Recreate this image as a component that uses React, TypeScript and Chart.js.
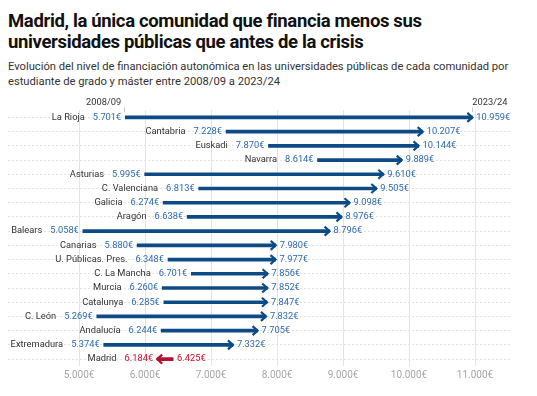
import React, { useEffect, useRef } from "react";
import { Chart, registerables } from "chart.js";

Chart.register(...registerables);

const categories = [
  "La Rioja", "Cantabria", "Euskadi", "Navarra", "Asturias", "C. Valenciana",
  "Galicia", "Aragón", "Balears", "Canarias", "U. Públicas. Pres.", "C. La Mancha",
  "Murcia", "Catalunya", "C. León", "Andalucía", "Extremadura", "Madrid",
];
const values2008 = [5701, 7228, 7870, 8614, 5995, 6813, 6274, 6638, 5058, 5880, 6348, 6701, 6260, 6285, 5269, 6244, 5374, 6425];
const values2023 = [10959, 10207, 10144, 9889, 9610, 9505, 9098, 8976, 8796, 7980, 7977, 7856, 7852, 7847, 7832, 7705, 7332, 6184];
const tickValues = [5000, 6000, 7000, 8000, 9000, 10000, 11000];
const startLabel = "2008/09";
const endLabel = "2023/24";

const BLUE_LINE = "#0d4b86";
const BLUE_TEXT = "#2e6aae";
const RED_LINE = "#b3122e";
const RED_TEXT = "#c8102e";
const FONT = "Roboto, 'Noto Sans', sans-serif";
const LABEL_SIZE = 9.3;

const fmt = (v: number) => {
  const th = Math.floor(v / 1000);
  const rest = String(v % 1000).padStart(3, "0");
  return `${th}.${rest}€`;
};

const isDown = (i: number) => values2023[i] < values2008[i];

const arrowPlugin = {
  id: "arrowLabels",
  afterDatasetsDraw(chart: any) {
    const { ctx } = chart;
    const xs = chart.scales.x;
    const ys = chart.scales.y;
    ctx.save();
    categories.forEach((name, i) => {
      const y = ys.getPixelForValue(i);
      const x0 = xs.getPixelForValue(values2008[i]);
      const x1 = xs.getPixelForValue(values2023[i]);
      const dir = x1 >= x0 ? 1 : -1;
      const down = isDown(i);
      const lineCol = down ? RED_LINE : BLUE_LINE;
      const textCol = down ? RED_TEXT : BLUE_TEXT;
      ctx.strokeStyle = lineCol;
      ctx.lineWidth = 2.2;
      ctx.lineJoin = "miter";
      ctx.lineCap = "butt";
      ctx.beginPath();
      ctx.moveTo(x1 - dir * 5, y - 4.5);
      ctx.lineTo(x1, y);
      ctx.lineTo(x1 - dir * 5, y + 4.5);
      ctx.stroke();
      const leftX = Math.min(x0, x1);
      const rightX = Math.max(x0, x1);
      const leftVal = dir === 1 ? values2008[i] : values2023[i];
      const rightVal = dir === 1 ? values2023[i] : values2008[i];
      ctx.font = `${LABEL_SIZE}px ${FONT}`;
      ctx.textBaseline = "middle";
      ctx.fillStyle = textCol;
      ctx.textAlign = "right";
      const lt = fmt(leftVal);
      ctx.fillText(lt, leftX - 4, y);
      const lw = ctx.measureText(lt).width;
      ctx.fillStyle = "#333333";
      ctx.fillText(name, leftX - 4 - lw - 8, y);
      ctx.fillStyle = textCol;
      ctx.textAlign = "left";
      ctx.fillText(fmt(rightVal), rightX + 4, y);
    });
    const yTop = chart.chartArea.top;
    const hx0 = xs.getPixelForValue(values2008[0]);
    const hx1 = xs.getPixelForValue(values2023[0]);
    ctx.fillStyle = "#333333";
    ctx.font = `${LABEL_SIZE}px ${FONT}`;
    ctx.textBaseline = "middle";
    ctx.textAlign = "right";
    ctx.fillText(startLabel, hx0 - 4, yTop - 8);
    ctx.textAlign = "left";
    ctx.fillText(endLabel, hx1, yTop - 8);
    ctx.strokeStyle = "#cccccc";
    ctx.lineWidth = 1;
    ctx.beginPath();
    ctx.moveTo(Math.round(hx0 - 1) + 0.5, yTop - 3);
    ctx.lineTo(Math.round(hx0 - 1) + 0.5, yTop + 2);
    ctx.moveTo(Math.round(hx1) + 0.5, yTop - 3);
    ctx.lineTo(Math.round(hx1) + 0.5, yTop + 2);
    ctx.stroke();
    ctx.restore();
  },
};

export default function App() {
  const ref = useRef<HTMLCanvasElement | null>(null);
  useEffect(() => {
    if (!ref.current) return;
    const chart = new Chart(ref.current, {
      type: "bar",
      data: {
        labels: categories,
        datasets: [
          {
            data: categories.map((_, i) => [values2008[i], values2023[i]]) as any,
            backgroundColor: categories.map((_, i) => (isDown(i) ? RED_LINE : BLUE_LINE)),
            barThickness: 3,
            borderWidth: 0,
            borderSkipped: false,
          },
        ],
      },
      options: {
        indexAxis: "y",
        animation: false,
        responsive: false,
        maintainAspectRatio: false,
        layout: { padding: { top: 18.3, right: 25, bottom: 7.8, left: 8 } },
        plugins: { legend: { display: false }, tooltip: { enabled: false }, title: { display: false } },
        scales: {
          x: {
            type: "linear",
            min: 3924,
            max: 11560,
            afterBuildTicks: (scale: any) => {
              scale.ticks = tickValues.map((v) => ({ value: v }));
            },
            grid: { color: "#e4e4e4", drawTicks: false, lineWidth: 1 },
            border: { display: false },
            ticks: {
              padding: 3,
              color: "#a6a6a6",
              font: { family: FONT, size: 10 },
              callback: (v: any) => fmt(Number(v)),
            },
          },
          y: {
            type: "category",
            offset: true,
            grid: { offset: false, color: "#e2e2e2", drawTicks: false, lineWidth: 1 },
            border: { display: false, dash: [2, 2] },
            ticks: { display: false },
          },
        },
      },
      plugins: [arrowPlugin],
    } as any);
    return () => chart.destroy();
  }, []);

  return (
    <div style={{ position: "relative", width: 521, height: 384, fontFamily: FONT }}>
      <div
        style={{
          position: "absolute",
          top: 3,
          left: 0,
          fontSize: 18.5,
          letterSpacing: "-0.35px",
          fontWeight: 700,
          lineHeight: "20.5px",
          color: "#111111",
          whiteSpace: "nowrap",
        }}
      >
        Madrid, la única comunidad que financia menos sus
        <br />
        universidades públicas que antes de la crisis
      </div>
      <div
        style={{
          position: "absolute",
          top: 51,
          left: 0,
          fontSize: 11.2,
          lineHeight: "15px",
          color: "#333333",
          whiteSpace: "nowrap",
        }}
      >
        Evolución del nivel de financiación autonómica en las universidades públicas de cada comunidad por
        <br />
        estudiante de grado y máster entre 2008/09 a 2023/24
      </div>
      <canvas
        ref={ref}
        width={537}
        height={300}
        style={{ position: "absolute", top: 84, left: -8, width: 537, height: 300 }}
      />
    </div>
  );
}
